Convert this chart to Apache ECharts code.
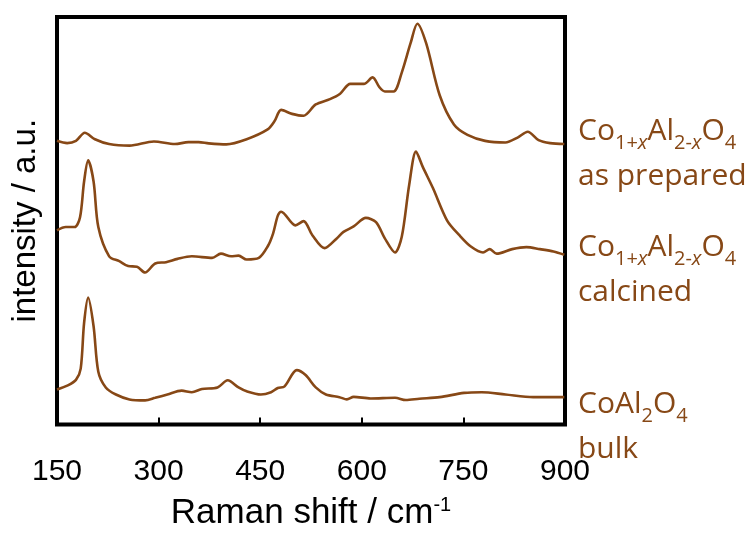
<!DOCTYPE html>
<html>
<head>
<meta charset="utf-8">
<script src="https://cdn.jsdelivr.net/npm/echarts@6/dist/echarts.min.js"></script>
<style>
  html, body { margin: 0; padding: 0; background: #fff; }
  #chart { width: 752px; height: 536px; }
</style>
</head>
<body>
<div id="chart"></div>
<script>
// Raman spectra, intensity in arbitrary units (stacked offsets as drawn)
const xTicks = [150, 300, 450, 600, 750, 900];

const shiftPrepared = [150, 165, 178, 191, 206, 227, 257, 293, 324, 344, 359, 374, 400, 430, 461, 471, 481, 497, 514, 532, 553, 568, 583, 603, 616, 626, 634, 647, 659, 672, 682, 695, 715, 736, 756, 782, 812, 830, 845, 861, 878, 899];
const intPrepared = [299.7, 297.3, 299.7, 308.3, 301.4, 296.3, 294.6, 299, 296.3, 298.3, 298.3, 297, 296, 301.4, 311.8, 320.4, 332.5, 328.3, 326.3, 338.3, 343.9, 349.7, 360.1, 360.1, 367, 356.6, 352.1, 352.1, 372.1, 403.2, 423.9, 403.2, 348, 317, 306, 299.7, 298, 303.2, 309.4, 300.4, 297.3, 296.3];

const shiftCalcined = [150, 163, 176, 184, 190, 196, 204, 211, 227, 242, 255, 268, 280, 295, 311, 328, 349, 379, 392, 407, 418, 430, 448, 461, 469, 476, 481, 502, 514, 527, 545, 563, 573, 588, 606, 621, 634, 649, 659, 670, 680, 690, 705, 726, 744, 761, 779, 789, 799, 822, 843, 863, 883, 899];
const intCalcined = [204.9, 208.3, 208.3, 218.7, 256.6, 279, 256.6, 208.3, 177.3, 172.1, 167, 166.3, 160.1, 169.7, 171.1, 174.6, 177.3, 175.6, 180.1, 177.3, 178, 173.9, 175.6, 187.7, 201.4, 220.4, 224.6, 210.1, 214.6, 199.7, 186, 196.3, 203.2, 209, 218, 213.5, 196.3, 181.4, 198, 253.2, 288.3, 272.1, 249.7, 215.2, 199.7, 187.7, 181.4, 184.9, 180.1, 184.9, 187, 184.9, 182.5, 179];

const shiftBulk = [150, 166, 178, 185, 190, 196, 204, 211, 222, 237, 257, 280, 295, 313, 334, 349, 364, 387, 402, 418, 430, 451, 466, 476, 486, 504, 517, 532, 547, 567, 578, 588, 613, 649, 665, 685, 715, 751, 777, 812, 853, 899];
const intBulk = [36, 40.4, 46.3, 58.3, 106.6, 133.5, 103.2, 55, 38.3, 30.8, 25.6, 24.6, 27.3, 30.8, 34.9, 33.2, 36.6, 38.3, 45.9, 38.3, 34.2, 30.8, 33.2, 37.7, 39.4, 56.6, 51.4, 38.3, 30.8, 28, 25.6, 28.3, 26.6, 27.3, 24.9, 26.3, 28, 32.5, 33.2, 30.8, 28, 28];

const brown = '#874816';

function zip(xs, ys) {
    return xs.map((x, i) => [x, ys[i]]);
}

const chart = echarts.init(document.getElementById('chart'), null, { renderer: 'canvas' });

const labelRich = {
    m: { fontFamily: 'Open Sans', fontSize: 30, lineHeight: 45, color: brown },
    s: { fontFamily: 'Open Sans', fontSize: 20, lineHeight: 21, verticalAlign: 'bottom', color: brown },
    si: { fontFamily: 'Open Sans', fontSize: 20, lineHeight: 21, verticalAlign: 'bottom', fontStyle: 'italic', color: brown }
};

function sideLabel(y, text) {
    return {
        type: 'text',
        left: 578,
        top: y,
        style: { text: text, rich: labelRich, fill: brown }
    };
}

const formula = '{m|Co}{s|1+}{si|x}{m|Al}{s|2-}{si|x}{m|O}{s|4}';

const lineSeries = (name, data) => ({
    name: name,
    type: 'line',
    data: data,
    showSymbol: false,
    smooth: 0.3,
    lineStyle: { color: brown, width: 2.6 },
    silent: true
});

chart.setOption({
    animation: false,
    grid: {
        left: 57, right: 187, top: 17, bottom: 87,
        show: true, borderColor: '#000', borderWidth: 4
    },
    xAxis: {
        type: 'value',
        min: 150, max: 900, interval: 150,
        name: '{a|Raman shift / cm}{b|-1}',
        nameLocation: 'middle',
        nameGap: 71,
        nameTextStyle: {
            rich: {
                a: { fontFamily: 'Liberation Sans', fontSize: 35, color: '#000', lineHeight: 36 },
                b: { fontFamily: 'Liberation Sans', fontSize: 20, color: '#000', verticalAlign: 'top', lineHeight: 20 }
            }
        },
        axisLine: { show: false },
        axisTick: { show: true, inside: true, length: 6, lineStyle: { color: '#000', width: 2 } },
        axisLabel: {
            fontFamily: 'Liberation Sans', fontSize: 30, color: '#000', margin: 32,
            formatter: v => xTicks.includes(v) ? String(v) : ''
        },
        splitLine: { show: false }
    },
    yAxis: {
        type: 'value',
        min: -1, max: 431,
        name: 'intensity / a.u.',
        nameLocation: 'middle',
        nameGap: 15,
        nameTextStyle: { fontFamily: 'Liberation Sans', fontSize: 33, color: '#000' },
        axisLine: { show: false },
        axisTick: { show: false },
        axisLabel: { show: false },
        splitLine: { show: false }
    },
    series: [
        lineSeries('as prepared', zip(shiftPrepared, intPrepared)),
        lineSeries('calcined', zip(shiftCalcined, intCalcined)),
        lineSeries('bulk', zip(shiftBulk, intBulk))
    ],
    graphic: [
        sideLabel(116, formula + '\n{m|as prepared}'),
        sideLabel(232, formula + '\n{m|calcined}'),
        sideLabel(389, '{m|CoAl}{s|2}{m|O}{s|4}\n{m|bulk}')
    ]
});
</script>
</body>
</html>
